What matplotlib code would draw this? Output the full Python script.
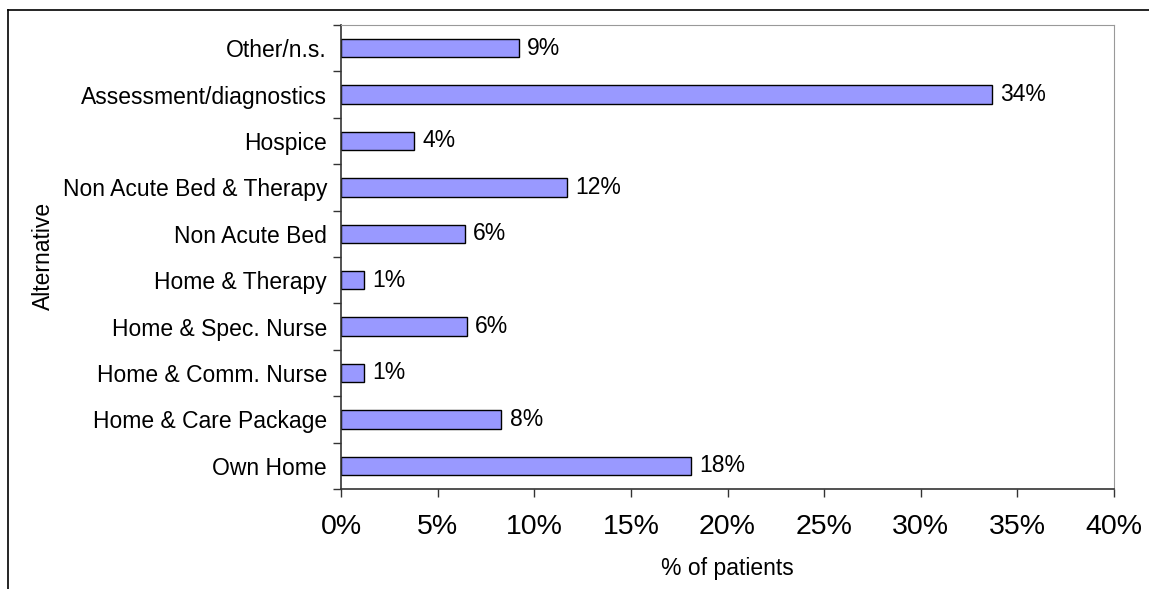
import matplotlib.pyplot as plt
from matplotlib.lines import Line2D
from matplotlib.ticker import FuncFormatter

plt.rcParams['font.family'] = ['Liberation Sans', 'DejaVu Sans']

categories = ["Own Home", "Home & Care Package", "Home & Comm. Nurse",
              "Home & Spec. Nurse", "Home & Therapy", "Non Acute Bed",
              "Non Acute Bed & Therapy", "Hospice", "Assessment/diagnostics",
              "Other/n.s."]
percent = [18.1, 8.3, 1.2, 6.5, 1.2, 6.4, 11.7, 3.8, 33.7, 9.2]

W, H = 1149, 589
fig = plt.figure(figsize=(W / 100, H / 100), dpi=100)
ax = fig.add_axes([341 / W, 1 - 489 / H, (1114 - 341) / W, (489 - 25) / H])

ypos = range(len(categories))
bars = ax.barh(ypos, percent, height=0.4, color="#9999FF",
               edgecolor="black", linewidth=1.0)

for b, v in zip(bars, percent):
    ax.annotate(f"{v:.0f}%", (b.get_width(), b.get_y() + b.get_height() / 2),
                xytext=(6, 0), textcoords="offset points",
                va="center", ha="left", fontsize=16.5)

ax.set_xlim(0, 40)
ax.set_ylim(-0.5, len(categories) - 0.5)
ax.set_xticks(range(0, 41, 5))
ax.xaxis.set_major_formatter(FuncFormatter(lambda x, _: f"{x:.0f}%"))
ax.tick_params(axis="x", labelsize=20.5, length=6, width=1, color="#333333", pad=12)

# category names sit on minor ticks, tick marks go between categories
ax.set_yticks([i - 0.5 for i in range(len(categories) + 1)])
ax.set_yticklabels([])
ax.set_yticks(list(ypos), minor=True)
ax.set_yticklabels(categories, minor=True, fontsize=16.5)
ax.tick_params(axis="y", which="major", length=6, width=1, color="#333333")
ax.tick_params(axis="y", which="minor", length=0, pad=10)

ax.set_xlabel("% of patients", fontsize=16.5, labelpad=12)
ax.set_ylabel("Alternative", fontsize=16.5)
ax.yaxis.set_label_coords(55 / W, 1 - 256 / H, transform=fig.transFigure)

for side in ["top", "right"]:
    ax.spines[side].set_color("#999999")
for side in ["left", "bottom"]:
    ax.spines[side].set_color("#333333")
    ax.spines[side].set_linewidth(1.2)

# outer chart frame (top and left edges)
fig.add_artist(Line2D([8 / W, 1], [1 - 10 / H, 1 - 10 / H], color="black", lw=1.2))
fig.add_artist(Line2D([8 / W, 8 / W], [0, 1 - 10 / H], color="black", lw=1.2))

fig.savefig("out.png", dpi=100)
